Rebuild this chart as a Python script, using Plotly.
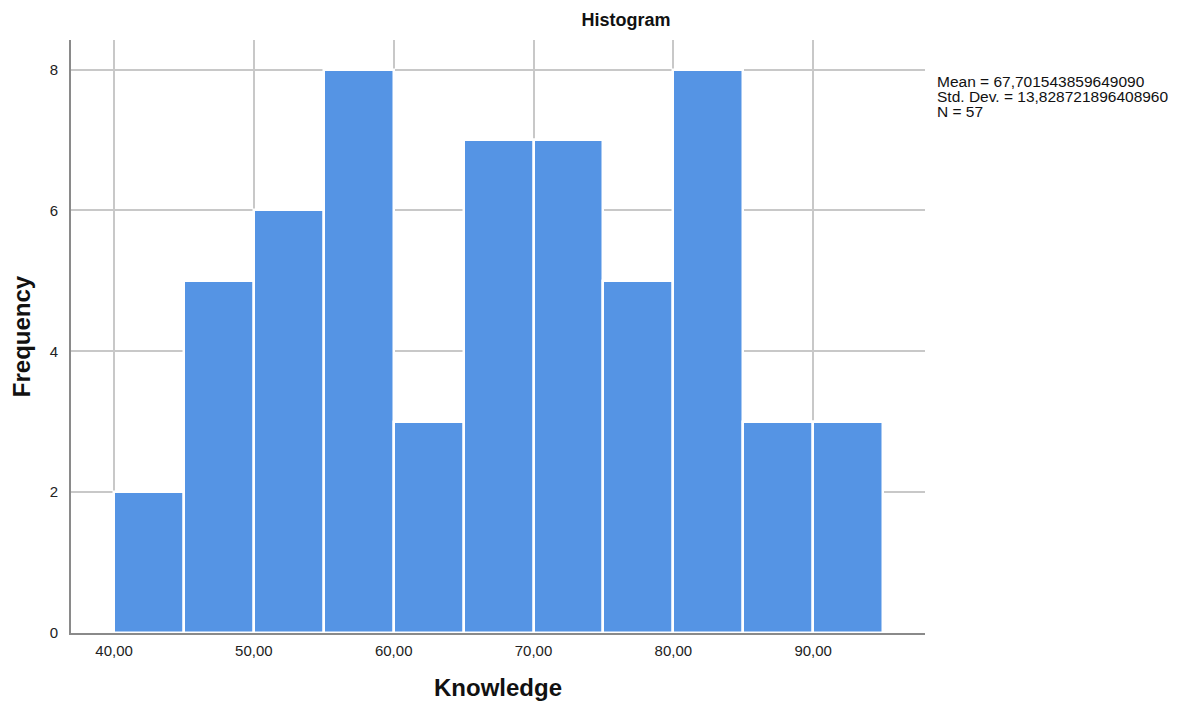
import plotly.graph_objects as go

bin_starts = [40, 45, 50, 55, 60, 65, 70, 75, 80, 85, 90]
bin_width = 5
counts = [2, 5, 6, 8, 3, 7, 7, 5, 8, 3, 3]
x_ticks = [40, 50, 60, 70, 80, 90]
x_tick_labels = ["40,00", "50,00", "60,00", "70,00", "80,00", "90,00"]
y_ticks = [0, 2, 4, 6, 8]
stats_lines = ["Mean = 67,701543859649090", "Std. Dev. = 13,828721896408960", "N = 57"]

centers = [s + bin_width / 2 for s in bin_starts]

FONT = "Liberation Sans, Arial, sans-serif"
OFF = 8  # page body margin

fig = go.Figure()
fig.add_trace(go.Bar(
    x=centers, y=counts, width=bin_width,
    marker=dict(color="#5594E4", line=dict(color="white", width=2.5)),
    hoverinfo="x+y",
))

W, H = 1169, 693
L, R, T, B = 71 - OFF, W - (925 - OFF), 40 - OFF, H - (633 - OFF)

fig.update_layout(
    width=W, height=H,
    margin=dict(l=L, r=R, t=T, b=B, autoexpand=False),
    paper_bgcolor="white", plot_bgcolor="white",
    showlegend=False,
    bargap=0,
    font=dict(family=FONT, color="#222"),
    title=dict(text="<b>Histogram</b>", x=(626 - OFF) / W, xanchor="center",
               y=1 - (20 - OFF) / H, yanchor="middle",
               font=dict(size=18, family=FONT, color="#111")),
    xaxis=dict(
        range=[36.92, 98.0],
        tickvals=x_ticks, ticktext=x_tick_labels,
        showgrid=True, gridcolor="#c8c8c8", gridwidth=1.5,
        showline=True, linecolor="#8a8a8a", linewidth=2,
        zeroline=False, layer="above traces", automargin=False,
        ticks="", ticklabelstandoff=3,
        tickfont=dict(size=15, color="#222"),
        title=dict(text="<b>Knowledge</b>", font=dict(size=24, color="#111"), standoff=25),
    ),
    yaxis=dict(
        range=[0, 8.42],
        tickvals=y_ticks,
        showgrid=True, gridcolor="#c8c8c8", gridwidth=1.5,
        showline=True, linecolor="#8a8a8a", linewidth=2,
        zeroline=False, automargin=False,
        ticks="", ticklabelstandoff=8,
        tickfont=dict(size=15, color="#222"),
        title=dict(text="<b>Frequency</b>", font=dict(size=24, color="#111"), standoff=14),
    ),
)

plot_h = H - T - B
plot_w = W - L - R
line_px = [82, 97, 112]
for txt, ypx in zip(stats_lines, line_px):
    fig.add_annotation(
        text=txt, xref="paper", yref="paper",
        x=(935 - 71) / plot_w, y=(633 - ypx) / plot_h,
        xanchor="left", yanchor="middle", showarrow=False,
        font=dict(size=15.5, family=FONT, color="#111"),
    )

fig.write_html("out.html")
